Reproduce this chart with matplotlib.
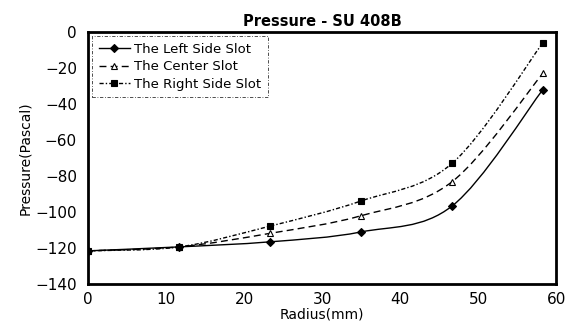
import numpy as np
import matplotlib.pyplot as plt
from matplotlib.path import Path
from matplotlib.patches import PathPatch
from matplotlib.lines import Line2D

radius = [0, 11.7, 23.3, 35.0, 46.7, 58.3]
left_slot = [-121.5, -119.3, -116.5, -111.0, -96.5, -32.0]
center_slot = [-121.5, -119.3, -111.8, -102.0, -83.0, -23.0]
right_slot = [-121.5, -119.3, -107.8, -93.8, -72.8, -6.0]


def smooth_path(xs, ys, t=1/6):
    # Catmull-Rom style bezier segments, like a spreadsheet "smoothed line"
    xs = np.asarray(xs, float)
    ys = np.asarray(ys, float)
    n = len(xs)
    verts = [(xs[0], ys[0])]
    codes = [Path.MOVETO]
    for i in range(n - 1):
        p0 = np.array([xs[max(i - 1, 0)], ys[max(i - 1, 0)]])
        p1 = np.array([xs[i], ys[i]])
        p2 = np.array([xs[i + 1], ys[i + 1]])
        p3 = np.array([xs[min(i + 2, n - 1)], ys[min(i + 2, n - 1)]])
        c1 = p1 + (p2 - p0) * t
        c2 = p2 - (p3 - p1) * t
        verts += [tuple(c1), tuple(c2), tuple(p2)]
        codes += [Path.CURVE4] * 3
    return Path(verts, codes)


fig = plt.figure(figsize=(5.68, 3.27), dpi=100)
ax = fig.add_axes([0.155, 0.131, 0.824, 0.771])

series = [
    ("The Left Side Slot", left_slot, "-", "D", "black", 4),
    ("The Center Slot", center_slot, (0, (5, 3)), "^", "white", 5),
    ("The Right Side Slot", right_slot, (0, (3, 1.5, 1, 1.5)), "s", "black", 5),
]

handles = []
for label, vals, ls, mk, fc, ms in series:
    patch = PathPatch(smooth_path(radius, vals), facecolor="none",
                      edgecolor="black", lw=1.0, linestyle=ls)
    ax.add_patch(patch)
    ax.plot(radius, vals, linestyle="none", marker=mk, markersize=ms,
            markerfacecolor=fc, markeredgecolor="black", markeredgewidth=0.8)
    handles.append(Line2D([], [], color="black", lw=1.0, linestyle=ls, marker=mk,
                          markersize=ms, markerfacecolor=fc, markeredgecolor="black",
                          markeredgewidth=0.8, label=label))

ax.set_xlim(0, 60)
ax.set_ylim(-140, 0)
ax.set_xticks(np.arange(0, 61, 10))
ax.set_yticks(np.arange(-140, 1, 20))
ax.tick_params(length=0, labelsize=11, pad=8)
ax.tick_params(axis="x", pad=6)
for side in ax.spines.values():
    side.set_linewidth(2.0)

ax.set_title("Pressure - SU 408B", fontsize=10.5, fontweight="bold", pad=4)
ax.set_ylabel("Pressure(Pascal)", fontsize=10, labelpad=2)
ax.set_xlabel("Radius(mm)", fontsize=10, labelpad=0)

leg = ax.legend(handles=handles, loc="upper left", fontsize=9.5, frameon=True,
                fancybox=False, handlelength=2.4, borderaxespad=0.3,
                labelspacing=0.35, handletextpad=0.3, borderpad=0.5)
leg.get_frame().set_edgecolor("black")
leg.get_frame().set_linestyle((0, (4, 2, 1, 2)))
leg.get_frame().set_linewidth(0.6)

fig.savefig("out.png", dpi=100)
